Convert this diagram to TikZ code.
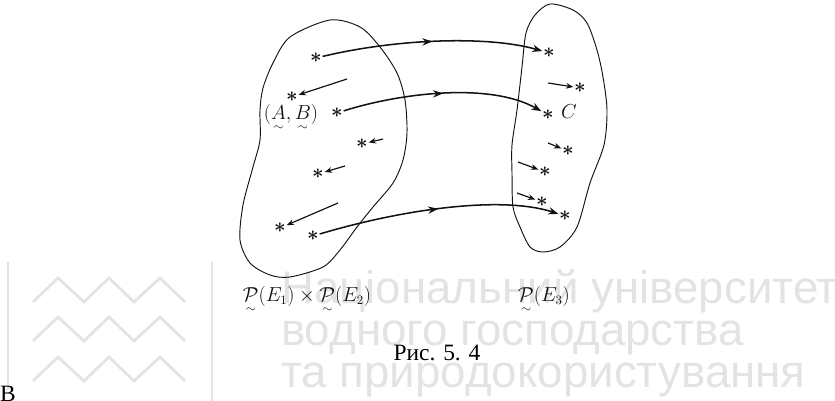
\documentclass[tikz,border=0pt]{standalone}
\usepackage{amsmath,amssymb}
\usepackage{fontspec}
\usepackage{tikz}
\usetikzlibrary{arrows.meta,decorations.markings}
\newfontfamily\capfont{Liberation Serif}
\newfontfamily\markfont{Liberation Sans}
\definecolor{ink}   {HTML}{111111}
\definecolor{wmark} {HTML}{E3E3E3}
\tikzset{
  blob/.style   ={draw=ink, line width=0.8pt},
  elem/.style   ={inner sep=0.5pt, font=\fontsize{18}{18}\selectfont, text=ink},
  maparr/.style ={draw=ink, line width=1.3pt, -{Stealth[length=3mm,width=2.2mm]},
                  postaction={decorate},
                  decoration={markings, mark=at position 0.5 with
                    {\arrow{Stealth[length=3mm,width=2.2mm]}}}},
  subarr/.style ={draw=ink, line width=1pt, -{Stealth[length=2.2mm,width=1.7mm]}},
  lab/.style    ={font=\fontsize{16}{18}\selectfont, text=ink, inner sep=0pt},
  wline/.style  ={draw=wmark, line width=2.4pt},
  wtext/.style  ={font=\markfont\fontsize{39}{39}\selectfont, text=wmark,
                  anchor=base west, inner sep=0pt},
}

\begin{document}
\begin{tikzpicture}[x=0.03cm,y=-0.03cm]
  \useasboundingbox (0,0) rectangle (835,401);

  % watermark of the scan
  \draw[wline] (8,262) -- (8,390);
  \draw[wline] (212,262) -- (212,401);
  \foreach \yy in {290,329,369}
    \draw[wline] (33,{\yy+12}) -- (58,{\yy-12}) -- (84,{\yy+12}) -- (109,{\yy-12})
                 -- (134,{\yy+12}) -- (160,{\yy-12}) -- (185,{\yy+12});
  \node[wtext] (w1) at (281,303) {Національний університет};
  \node[wtext] (w2) at (281,345) {водного господарства};
  \node[wtext] (w3) at (281,387) {та природокористування};

  % the two sets
  \draw[blob] plot[smooth cycle] coordinates {(330,20) (360,27) (380,47) (397,73)
    (405,100) (407,133) (403,160) (393,183) (373,207) (357,227) (340,250)
    (323,267) (290,277) (270,275) (250,263) (240,240) (243,205) (253,167)
    (260,140) (260,110) (263,88) (273,63) (290,37)};
  \draw[blob] plot[smooth cycle] coordinates {(550,4) (573,10) (587,23) (597,50)
    (603,77) (607,110) (604,145) (590,183) (577,227) (560,247) (543,252)
    (530,247) (520,227) (513,207) (512,173) (512,145) (517,110) (522,67)
    (526,33) (535,15)};

  % elements of the product set
  \node[elem] (s1) at (316,58)  {$\boldsymbol{\ast}$};
  \node[elem] (s2) at (292,97)  {$\boldsymbol{\ast}$};
  \node[elem] (s3) at (337,113) {$\boldsymbol{\ast}$};
  \node[elem] (s4) at (362,144) {$\boldsymbol{\ast}$};
  \node[elem] (s5) at (318,174) {$\boldsymbol{\ast}$};
  \node[elem] (s6) at (280,228) {$\boldsymbol{\ast}$};
  \node[elem] (s7) at (313,236) {$\boldsymbol{\ast}$};
  % elements of the image set
  \node[elem] (r1) at (549,53)  {$\boldsymbol{\ast}$};
  \node[elem] (r2) at (548,115) {$\boldsymbol{\ast}$};
  \node[elem] (r3) at (580,88)  {$\boldsymbol{\ast}$};
  \node[elem] (r4) at (568,151) {$\boldsymbol{\ast}$};
  \node[elem] (r5) at (545,172) {$\boldsymbol{\ast}$};
  \node[elem] (r6) at (542,202) {$\boldsymbol{\ast}$};
  \node[elem] (r7) at (565,216) {$\boldsymbol{\ast}$};

  \coordinate (a0) at (347,79);
  \coordinate (b0) at (383,139);
  \coordinate (c0) at (345,166);
  \coordinate (d0) at (338,203);
  \coordinate (e0) at (548,83);
  \coordinate (f0) at (548,143);
  \coordinate (g0) at (518,162);
  \coordinate (h0) at (517,193);
  \draw[subarr] (a0) -- (s2);
  \draw[subarr] (b0) -- (s4);
  \draw[subarr] (c0) -- (s5);
  \draw[subarr] (d0) -- (s6);
  \draw[subarr] (e0) -- (r3);
  \draw[subarr] (f0) -- (r4);
  \draw[subarr] (g0) -- (r5);
  \draw[subarr] (h0) -- (r6);

  % the mapping
  \draw[maparr] (s1) .. controls (400,38) and (490,36) .. (r1);
  \draw[maparr] (s3) .. controls (400,93) and (490,82) .. (r2);
  \draw[maparr] (s7) .. controls (400,210) and (500,195) .. (r7);

  \node[lab] (ab) at (291,118) {$(\underset{\sim}{A},\underset{\sim}{B})$};
  \node[lab] (cc) at (569,112) {$C$};
  \node[lab] (pl) at (307,300)
    {$\underset{\sim}{\mathcal{P}}(E_1)\times\underset{\sim}{\mathcal{P}}(E_2)$};
  \node[lab] (pr) at (544,300) {$\underset{\sim}{\mathcal{P}}(E_3)$};

  \node[font=\capfont\fontsize{20}{20}\selectfont, anchor=base, inner sep=0pt]
    (cap) at (437,360) {Рис. 5. 4};
  \node[font=\capfont\fontsize{20}{20}\selectfont, anchor=base west, inner sep=0pt]
    (nx) at (0,401) {В};
\end{tikzpicture}
\end{document}
